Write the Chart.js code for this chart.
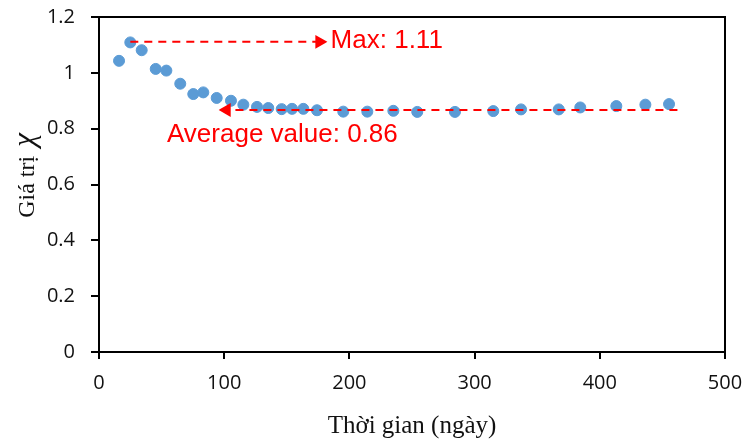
<!DOCTYPE html>
<html>
<head>
<meta charset="utf-8">
<script src="https://cdn.jsdelivr.net/npm/chart.js@4"></script>
<style>
  body { margin: 0; background: #fff; }
  #wrap { width: 747px; height: 445px; }
</style>
</head>
<body>
<div id="wrap"><canvas id="myChart"></canvas></div>
<script>
// days and chi values
const days = [16, 25, 34.1, 45.3, 53.8, 64.9, 75.3, 83.3, 94, 105.4, 115.3, 126.2, 135.2, 145.9,
  154.2, 163.2, 174.1, 195.1, 214.3, 235.1, 254.2, 284.3, 314.9, 337.1, 367.2, 384.4, 413.2, 436.4, 455.3]
const chi = [1.043, 1.109, 1.081, 1.014, 1.008, 0.961, 0.924, 0.930, 0.910, 0.900, 0.886, 0.878, 0.874, 0.870,
  0.871, 0.871, 0.866, 0.861, 0.861, 0.864, 0.860, 0.860, 0.863, 0.869, 0.869, 0.876, 0.881, 0.886, 0.888]

const xTicks = [0, 100, 200, 300, 400, 500]
const yTicks = [0, 0.2, 0.4, 0.6, 0.8, 1, 1.2]
const yTickLabels = ['0', '0.2', '0.4', '0.6', '0.8', '1', '1.2']

// arrows: [start, end] in data units
const maxArrowX = [25, 176]
const maxArrowY = [1.111, 1.111]
const avgArrowX = [462, 102]
const avgArrowY = [0.867, 0.867]

const labels = [
  { text: 'Max: 1.11', x: 185, y: 1.114 },
  { text: 'Average value: 0.86', x: 54.3, y: 0.777 }
]

const red = '#ff0000'
const blue = '#5b9bd5'

function arrowData(xs, ys) {
  return xs.map((x, i) => ({ x: x, y: ys[i] }))
}

const frame = {
  id: 'frame',
  afterDraw(chart) {
    const c = chart.ctx, a = chart.chartArea
    c.save()
    c.strokeStyle = '#000'
    c.lineWidth = 2
    c.strokeRect(a.left, a.top, a.right - a.left, a.bottom - a.top)
    c.restore()
  }
}

const texts = {
  id: 'texts',
  afterDatasetsDraw(chart) {
    const c = chart.ctx
    const xs = chart.scales.x, ys = chart.scales.y
    c.save()
    c.fillStyle = red
    c.font = '26px "Liberation Sans", Arial, sans-serif'
    c.textBaseline = 'middle'
    labels.forEach(l => {
      c.fillText(l.text, xs.getPixelForValue(l.x), ys.getPixelForValue(l.y))
    })
    c.restore()
  }
}

// y title: "Giá trị" upright, chi in italic
const yTitle = {
  id: 'yTitle',
  afterDraw(chart) {
    const c = chart.ctx
    c.save()
    c.translate(34, 177)
    c.rotate(-Math.PI / 2)
    c.fillStyle = '#111'
    c.textBaseline = 'alphabetic'
    const f1 = '24px "Liberation Serif", "Times New Roman", serif'
    const f2 = 'italic 31px "Liberation Serif", "Times New Roman", serif'
    c.font = f1
    const w1 = c.measureText('Giá trị ').width
    c.font = f2
    const w2 = c.measureText('χ').width
    let x = -(w1 + w2) / 2
    c.font = f1
    c.fillText('Giá trị ', x, 0)
    c.font = f2
    c.fillText('χ', x + w1 + 3, 0)
    c.restore()
  }
}

const ctx = document.getElementById('myChart').getContext('2d')

new Chart(ctx, {
  type: 'scatter',
  data: {
    datasets: [{
      label: 'chi',
      data: days.map((d, i) => ({ x: d, y: chi[i] })),
      backgroundColor: blue,
      borderColor: blue,
      pointRadius: 5.5,
      pointHoverRadius: 5.5,
      order: 1
    }, {
      type: 'line',
      label: 'max',
      data: arrowData(maxArrowX, maxArrowY),
      borderColor: red,
      backgroundColor: red,
      borderWidth: 2,
      borderDash: [8, 6],
      pointStyle: 'triangle',
      pointRotation: 90,
      pointRadius: [0, 6],
      order: 0
    }, {
      type: 'line',
      label: 'avg',
      data: arrowData(avgArrowX, avgArrowY),
      borderColor: red,
      backgroundColor: red,
      borderWidth: 2,
      borderDash: [8, 6],
      pointStyle: 'triangle',
      pointRotation: -90,
      pointRadius: [0, 6],
      order: 0
    }]
  },
  options: {
    responsive: true,
    maintainAspectRatio: false,
    animation: false,
    layout: { padding: { top: 17, right: 22, left: 0, bottom: 0 } },
    plugins: {
      legend: { display: false },
      tooltip: { enabled: false }
    },
    scales: {
      x: {
        type: 'linear',
        min: 0,
        max: 500,
        afterBuildTicks: axis => { axis.ticks = xTicks.map(v => ({ value: v })) },
        afterFit: axis => {
          axis.height = 93
          axis.paddingLeft = 0
          axis.paddingRight = 0
        },
        grid: { drawOnChartArea: false, drawTicks: true, tickLength: 7, color: '#000', lineWidth: 2 },
        border: { display: true, color: '#000', width: 2 },
        ticks: {
          color: '#111',
          padding: 12,
          font: { family: '"Open Sans", "Noto Sans", sans-serif', size: 20 }
        },
        title: {
          display: true,
          text: 'Thời gian (ngày)',
          color: '#111',
          padding: { top: 4 },
          font: { family: '"Liberation Serif", "Times New Roman", serif', size: 25 }
        }
      },
      y: {
        min: 0,
        max: 1.2,
        afterBuildTicks: axis => { axis.ticks = yTicks.map(v => ({ value: v })) },
        afterFit: axis => {
          axis.width = 99
          axis.paddingTop = 0
          axis.paddingBottom = 0
        },
        grid: { drawOnChartArea: false, drawTicks: true, tickLength: 8, color: '#000', lineWidth: 2 },
        border: { display: true, color: '#000', width: 2 },
        ticks: {
          color: '#111',
          padding: 16,
          callback: (v, i) => yTickLabels[i],
          font: { family: '"Open Sans", "Noto Sans", sans-serif', size: 20 }
        }
      }
    }
  },
  plugins: [frame, texts, yTitle]
})
</script>
</body>
</html>
